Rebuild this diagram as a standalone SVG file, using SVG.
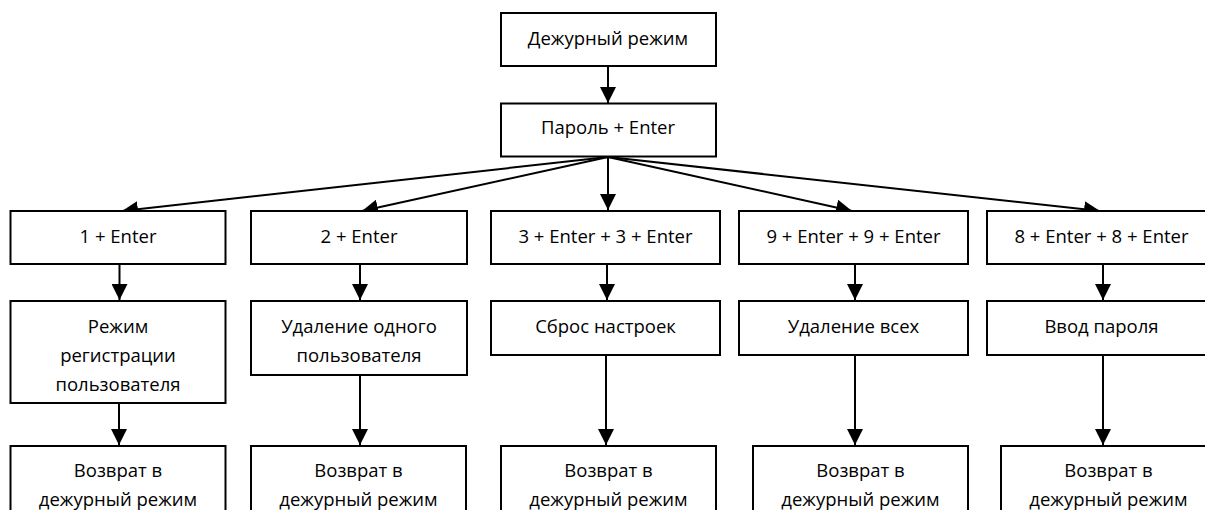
<svg xmlns="http://www.w3.org/2000/svg" width="1205" height="510" viewBox="0 0 1205 510">
<style>
.box{fill:#fff;stroke:#000;stroke-width:2}
.t{font-family:"Open Sans","Liberation Sans",sans-serif;font-size:18.5px;fill:#000;text-anchor:middle}
.c{stroke:#000;stroke-width:2;fill:none;marker-end:url(#ah)}
</style>
<defs>
<marker id="ah" markerUnits="userSpaceOnUse" markerWidth="16" markerHeight="16" refX="16" refY="8" orient="auto">
<path d="M0,0 L16,8 L0,16 z" fill="#000"/>
</marker>
</defs>
<rect width="1205" height="510" fill="#fff"/>
<g id="connectors">
<line class="c" x1="608" y1="66" x2="608" y2="103"/>
<line class="c" x1="608" y1="157" x2="122" y2="211"/>
<line class="c" x1="608" y1="157" x2="362" y2="211"/>
<line class="c" x1="608" y1="157" x2="608" y2="210"/>
<line class="c" x1="608" y1="157" x2="852" y2="211"/>
<line class="c" x1="608" y1="157" x2="1100" y2="211"/>
<line class="c" x1="119.5" y1="264" x2="119.5" y2="300"/>
<line class="c" x1="360" y1="264" x2="360" y2="300"/>
<line class="c" x1="607" y1="264" x2="607" y2="300"/>
<line class="c" x1="855" y1="264" x2="855" y2="300"/>
<line class="c" x1="1103" y1="264" x2="1103" y2="300"/>
<line class="c" x1="119" y1="403" x2="119" y2="445"/>
<line class="c" x1="360" y1="375" x2="360" y2="445"/>
<line class="c" x1="606" y1="355" x2="606" y2="445"/>
<line class="c" x1="855" y1="355" x2="855" y2="445"/>
<line class="c" x1="1103" y1="355" x2="1103" y2="445"/>
</g>
<g id="n-duty">
<rect class="box" x="501" y="13" width="215" height="53"/>
<text class="t" x="608" y="45">Дежурный режим</text>
</g>
<g id="n-password">
<rect class="box" x="501" y="103.5" width="215" height="53"/>
<text class="t" x="608" y="134">Пароль + Enter</text>
</g>
<g id="n-k1">
<rect class="box" x="10.5" y="211" width="215" height="53"/>
<text class="t" x="118" y="243">1 + Enter</text>
</g>
<g id="n-k2">
<rect class="box" x="251" y="211" width="216" height="53"/>
<text class="t" x="359" y="243">2 + Enter</text>
</g>
<g id="n-k3">
<rect class="box" x="491" y="211" width="229" height="53"/>
<text class="t" x="605.5" y="243">3 + Enter + 3 + Enter</text>
</g>
<g id="n-k9">
<rect class="box" x="739" y="211" width="229" height="53"/>
<text class="t" x="853.5" y="243">9 + Enter + 9 + Enter</text>
</g>
<g id="n-k8">
<rect class="box" x="987" y="211" width="229" height="53"/>
<text class="t" x="1101.5" y="243">8 + Enter + 8 + Enter</text>
</g>
<g id="n-reg">
<rect class="box" x="10.5" y="301" width="215" height="102"/>
<text class="t" x="118" y="333">Режим</text>
<text class="t" x="118" y="362">регистрации</text>
<text class="t" x="118" y="391">пользователя</text>
</g>
<g id="n-del1">
<rect class="box" x="251" y="301" width="216" height="74"/>
<text class="t" x="359" y="333">Удаление одного</text>
<text class="t" x="359" y="362">пользователя</text>
</g>
<g id="n-reset">
<rect class="box" x="491" y="301" width="229" height="54"/>
<text class="t" x="605.5" y="333">Сброс настроек</text>
</g>
<g id="n-delall">
<rect class="box" x="739" y="301" width="229" height="54"/>
<text class="t" x="853.5" y="333">Удаление всех</text>
</g>
<g id="n-pwd">
<rect class="box" x="987" y="301" width="229" height="54"/>
<text class="t" x="1101.5" y="333">Ввод пароля</text>
</g>
<g id="n-ret1">
<rect class="box" x="10.5" y="446" width="215" height="90"/>
<text class="t" x="118" y="477">Возврат в</text>
<text class="t" x="118" y="506">дежурный режим</text>
</g>
<g id="n-ret2">
<rect class="box" x="251" y="446" width="215" height="90"/>
<text class="t" x="358.5" y="477">Возврат в</text>
<text class="t" x="358.5" y="506">дежурный режим</text>
</g>
<g id="n-ret3">
<rect class="box" x="501" y="446" width="215" height="90"/>
<text class="t" x="608.5" y="477">Возврат в</text>
<text class="t" x="608.5" y="506">дежурный режим</text>
</g>
<g id="n-ret4">
<rect class="box" x="753" y="446" width="215" height="90"/>
<text class="t" x="860.5" y="477">Возврат в</text>
<text class="t" x="860.5" y="506">дежурный режим</text>
</g>
<g id="n-ret5">
<rect class="box" x="1001" y="446" width="215" height="90"/>
<text class="t" x="1108.5" y="477">Возврат в</text>
<text class="t" x="1108.5" y="506">дежурный режим</text>
</g>
</svg>
